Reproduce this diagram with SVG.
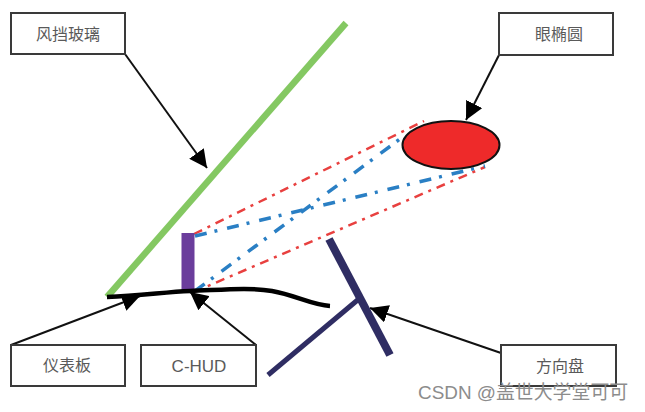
<svg xmlns="http://www.w3.org/2000/svg" width="645" height="412" viewBox="0 0 645 412">
<style>
.box{fill:#fff;stroke:#3a3a3a;stroke-width:2}
.lbl{font-family:"Noto Sans CJK SC","Liberation Sans",sans-serif;font-size:16px;fill:#5a5a5a;text-anchor:middle}
.lat{font-family:"Liberation Sans","Noto Sans CJK SC",sans-serif;font-size:17px}
.arr{stroke:#111;stroke-width:2;fill:none;marker-end:url(#ah)}
.red{stroke:#e8403f;stroke-width:2.500;fill:none;stroke-dasharray:9 6 3 6}
.blue{stroke:#2a7fc4;stroke-width:3.500;fill:none;stroke-dasharray:12 8 3 10}
.wm{font-family:"Liberation Sans","Noto Sans CJK SC",sans-serif;font-size:18.900px;fill:#8c8c8c}
</style>
<defs>
<marker id="ah" markerUnits="userSpaceOnUse" markerWidth="20" markerHeight="18" refX="18" refY="9" orient="auto">
<path d="M0 0L18 9L0 18z" fill="#000"/>
</marker>
</defs>
<rect width="645" height="412" fill="#fff"/>
<g id="connectors">
<path class="red" d="M194 234L424 121"/>
<path class="red" d="M194 292L485 167"/>
<path class="blue" d="M195 236L485 166"/>
<path class="blue" d="M195 291L404 136"/>
<path class="arr" d="M125 54L207 168"/>
<path class="arr" d="M499 55L466 120"/>
<path class="arr" d="M11 345L140 296"/>
<path class="arr" d="M256 345L190 292"/>
<path class="arr" d="M501 353L370 308"/>
</g>
<g id="windshield"><path d="M107 297L346 23" stroke="#84c862" stroke-width="6.500" fill="none"/></g>
<g id="hud"><rect x="181.500" y="233" width="13" height="58" fill="#6b3d9c"/></g>
<g id="dashboard"><path d="M107 297C140 296 165 292 190 291C220 290 250 287 272 291C295 295 312 305 330 306" stroke="#000" stroke-width="4.500" fill="none"/></g>
<g id="wheel">
<path d="M268 375L360 298" stroke="#2f2d63" stroke-width="5" fill="none"/>
<path d="M329 239L390 355" stroke="#2f2d63" stroke-width="8" fill="none"/>
</g>
<g id="eyellipse"><ellipse cx="451" cy="145" rx="48.500" ry="24" fill="#ee2a2a" stroke="#111" stroke-width="2"/></g>
<g id="n1"><rect class="box" x="11" y="13" width="114" height="41"/><text class="lbl" x="68" y="40">风挡玻璃</text></g>
<g id="n2"><rect class="box" x="499" y="13" width="114" height="42"/><text class="lbl" x="559" y="40">眼椭圆</text></g>
<g id="n3"><rect class="box" x="11" y="345" width="114" height="41"/><text class="lbl" x="67" y="371">仪表板</text></g>
<g id="n4"><rect class="box" x="141" y="345" width="115" height="41"/><text class="lbl lat" x="199" y="372">C-HUD</text></g>
<g id="n5"><rect class="box" x="501" y="345" width="115" height="41"/><text class="lbl" x="560" y="372">方向盘</text></g>
<text class="wm" x="418" y="399">CSDN @盖世大学堂可可</text>
</svg>
